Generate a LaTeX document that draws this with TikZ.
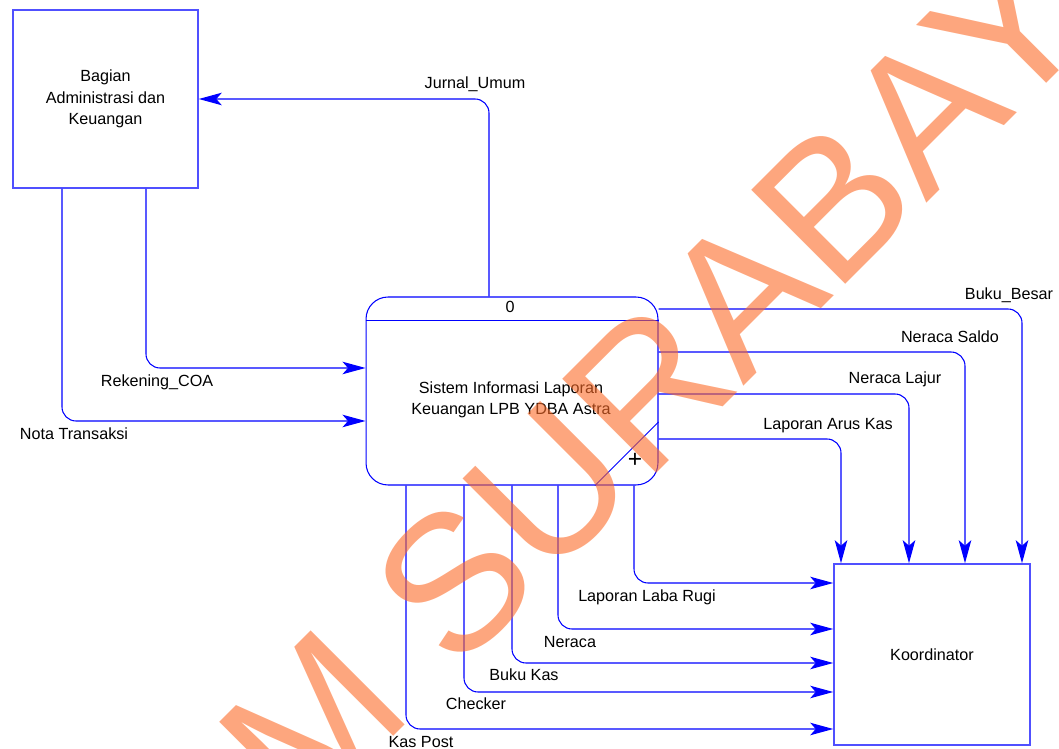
\documentclass[tikz,border=0pt]{standalone}
\usepackage{fontspec}
\setmainfont{Liberation Sans}
\usepackage{xcolor}
\usepackage{tikz}
\usetikzlibrary{arrows.meta}
\usetikzlibrary{shapes.geometric, calc}

\definecolor{wmark}{RGB}{252,107,40}
\definecolor{boxblue}{RGB}{80,80,255}

\begin{document}
\begin{tikzpicture}[x=0.02cm, y=-0.02cm, font=\fontsize{9.2}{12.2}\selectfont,
  flow/.style={draw=blue, line width=0.6pt, rounded corners=0.28cm,
    -{Stealth[length=0.46cm, width=0.25cm, inset=0.11cm]}},
  entity/.style={draw=boxblue, line width=0.9pt, align=center, inner sep=0pt},
  lbl/.style={inner sep=0pt, text height=6.5pt, text depth=0pt}]
  \useasboundingbox (0,0) rectangle (1059,749);
  \clip (0,0) rectangle (1059,749);

  % entitas luar dan proses
  \node[entity, minimum width=3.7cm, minimum height=3.56cm] (adm) at (105.5,99) {Bagian\\Administrasi dan\\Keuangan};
  \node[entity, minimum width=3.92cm, minimum height=3.62cm] (koor) at (932,654.5) {Koordinator};
  \node[draw=blue, line width=0.6pt, rounded corners=0.44cm, minimum width=5.84cm, minimum height=3.76cm] (proc) at (512,391) {};
  \node[align=center] (ptext) at (511,400) {Sistem Informasi Laporan\\Keuangan LPB YDBA Astra};
  \node[lbl] (pnum) at (510,307) {0};
  \draw[blue, line width=0.6pt] ([yshift=-0.48cm]proc.north west) -- ([yshift=-0.48cm]proc.north east);
  \draw[blue, line width=0.5pt] ([yshift=-0.62cm]proc.east) -- ([xshift=1.66cm]proc.south);
  \node[inner sep=0pt, font=\fontsize{14}{14}\selectfont] (pplus) at (635,460) {+};

  % kolom dan baris aliran
  \foreach \n/\x in {jur/489, rek/146, nota/62, bb/1022, ns/965, nl/909, ak/841,
                     lr/634, ner/558, bk/512, chk/464, kp/406}
    \coordinate (c\n) at (\x,0);
  \foreach \n/\y in {rek/368, nota/421, bb/309, ns/352, nl/394, ak/439,
                     lr/583, ner/629, bk/663, chk/692, kp/729}
    \coordinate (r\n) at (0,\y);

  % aliran data
  \draw[flow] (proc.north -| cjur) |- (adm);
  \draw[flow] (adm.south -| crek) |- (proc.west |- rrek);
  \draw[flow] (adm.south -| cnota) |- (proc.west |- rnota);
  \draw[flow] (proc.east |- rbb) -| (koor.north -| cbb);
  \draw[flow] (proc.east |- rns) -| (koor.north -| cns);
  \draw[flow] (proc.east |- rnl) -| (koor.north -| cnl);
  \draw[flow] (proc.east |- rak) -| (koor.north -| cak);
  \draw[flow] (proc.south -| clr) |- (koor.west |- rlr);
  \draw[flow] (proc.south -| cner) |- (koor.west |- rner);
  \draw[flow] (proc.south -| cbk) |- (koor.west |- rbk);
  \draw[flow] (proc.south -| cchk) |- (koor.west |- rchk);
  \draw[flow] (proc.south -| ckp) |- (koor.west |- rkp);

  % label aliran
  \node[lbl] (ljur) at (475,83) {Jurnal\_Umum};
  \node[lbl] (lrek) at (157,381) {Rekening\_COA};
  \node[lbl] (lnota) at (74,434) {Nota Transaksi};
  \node[lbl] (lbb) at (1009,294) {Buku\_Besar};
  \node[lbl] (lns) at (950,337) {Neraca Saldo};
  \node[lbl] (lnl) at (895,378) {Neraca Lajur};
  \node[lbl] (lak) at (828,424) {Laporan Arus Kas};
  \node[lbl] (llr) at (647,596) {Laporan Laba Rugi};
  \node[lbl] (lner) at (570,642) {Neraca};
  \node[lbl] (lbk) at (524,675) {Buku Kas};
  \node[lbl] (lchk) at (476,704) {Checker};
  \node[lbl] (lkp) at (421,742) {Kas Post};

  % watermark
  \node[rotate=45, anchor=base west, inner sep=0pt, text=wmark, text opacity=0.6,
    font=\fontsize{110}{110}\selectfont] (wm1) at (455,675) {SURABAYA};
  \node[rotate=45, anchor=base east, inner sep=0pt, text=wmark, text opacity=0.6,
    font=\fontsize{110}{110}\selectfont] (wm2) at (417,713) {STIKOM};
\end{tikzpicture}
\end{document}
